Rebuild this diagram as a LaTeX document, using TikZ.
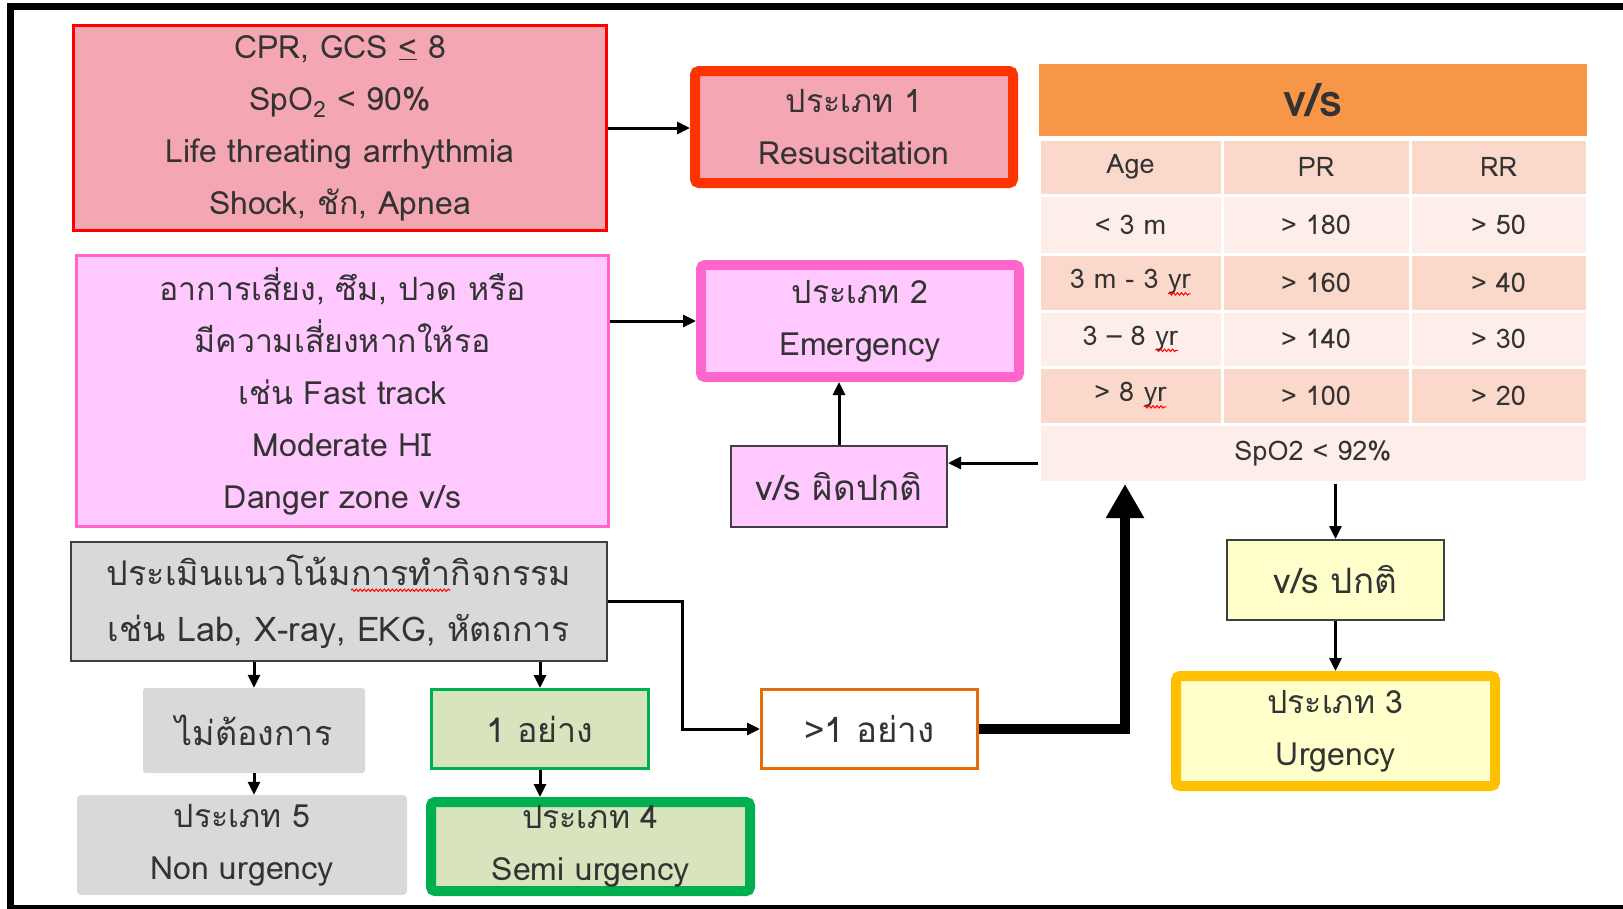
\documentclass[tikz,border=0pt]{standalone}
\usepackage{fontspec}
\usetikzlibrary{arrows.meta,decorations.pathmorphing,calc}
\newfontfamily\thai[Script=Thai]{Loma}
\definecolor{txt}{HTML}{333333}
\definecolor{redfill}{HTML}{F4A6B2}
\definecolor{redline}{HTML}{FF0000}
\definecolor{resline}{HTML}{FF3300}
\definecolor{pinkfill}{HTML}{FFC9FF}
\definecolor{pinkline}{HTML}{FF66CC}
\definecolor{grayfill}{HTML}{D9D9D9}
\definecolor{darkline}{HTML}{404040}
\definecolor{greenfill}{HTML}{D7E4BD}
\definecolor{greenline}{HTML}{00B050}
\definecolor{orangeline}{HTML}{E46C0A}
\definecolor{hdrfill}{HTML}{F79646}
\definecolor{tabdark}{HTML}{FBD9CA}
\definecolor{tablight}{HTML}{FDEEE9}
\definecolor{yelfill}{HTML}{FFFFCC}
\definecolor{yelline}{HTML}{FFC000}
\newcommand{\sqw}[1]{\tikz[baseline=(sq.base)]{\node[inner sep=0pt,outer sep=0pt,draw=none,fill=none,minimum width=0pt,minimum height=0pt,anchor=base] (sq) at (0,0) {#1};\draw[draw=red,line width=1pt,decorate,decoration={snake,amplitude=1.2pt,segment length=4pt}] ([yshift=-5pt]sq.base west) -- ([yshift=-5pt]sq.base east);}}
\begin{document}
\begin{tikzpicture}[x=1pt,y=-1pt,
  box/.style={rectangle,inner sep=0pt,align=center,text=txt,font=\thai\fontsize{32}{52}\selectfont},
  bigtext/.style={font=\thai\fontsize{34}{56}\selectfont},
  onetext/.style={font=\thai\fontsize{35}{42}\selectfont},
  cell/.style={rectangle,inner sep=0pt,draw=white,line width=3pt,text=txt,font=\thai\fontsize{27}{32}\selectfont},
  arr/.style={line width=3pt,-{Triangle[length=13pt,width=12pt]}},
  thickarr/.style={line width=10pt,-{Triangle[length=34pt,width=36pt]}}]
\useasboundingbox (0,0) rectangle (1623,908);
\fill[white] (0,0) rectangle (1623,908);
% frame
\draw[line width=7pt] (10.5,3) -- (10.5,908);
\draw[line width=7pt] (7,6.5) -- (1623,6.5);
\draw[line width=4pt] (7,906.5) -- (1623,906.5);
% left column
\node[box,fill=redfill,draw=redline,line width=3pt,minimum width=533pt,minimum height=205pt] (redbox) at (340,128)
  {CPR, GCS \underline{<} 8\\SpO\textsubscript{2} < 90\%\\Life threating arrhythmia\\Shock, ชัก, Apnea};
\node[box,fill=pinkfill,draw=pinkline,line width=3pt,minimum width=532pt,minimum height=271pt] (pinkbox) at (342.5,391)
  {อาการเสี่ยง, ซึม, ปวด หรือ\\มีความเสี่ยงหากให้รอ\\เช่น Fast track\\Moderate HI\\Danger zone v/s};
\node[box,bigtext,fill=grayfill,draw=darkline,line width=2pt,minimum width=536pt,minimum height=119pt] (graybox) at (339,601.5)
  {ประเมินแนวโน้ม\sqw{การทำ}กิจกรรม\\เช่น Lab, X-ray, EKG, หัตถการ};
\node[box,bigtext,fill=grayfill,rounded corners=3pt,minimum width=222pt,minimum height=85pt] (notneed) at (254,730.5) {ไม่ต้องการ};
\node[box,bigtext,fill=greenfill,draw=greenline,line width=3pt,minimum width=217pt,minimum height=79pt] (one) at (540,729) {1 อย่าง};
\node[box,fill=grayfill,rounded corners=4pt,minimum width=330pt,minimum height=100pt] (type5) at (242,845) {ประเภท 5\\Non urgency};
\node[box,fill=greenfill,draw=greenline,line width=10pt,rounded corners=4pt,minimum width=319pt,minimum height=89pt] (type4) at (590.5,846.5) {ประเภท 4\\Semi urgency};
% middle column
\node[box,fill=redfill,draw=resline,line width=10pt,rounded corners=4pt,minimum width=318pt,minimum height=112pt] (resus) at (854,127) {ประเภท 1\\Resuscitation};
\node[box,fill=pinkfill,draw=pinkline,line width=10pt,rounded corners=4pt,minimum width=318pt,minimum height=112pt] (emerg) at (860,321) {ประเภท 2\\Emergency};
\node[box,onetext,fill=pinkfill,draw=darkline,line width=2pt,minimum width=216pt,minimum height=81pt] (vsab) at (839,486.5) {v/s ผิดปกติ};
\node[box,onetext,fill=white,draw=orangeline,line width=3pt,minimum width=216pt,minimum height=79pt] (more) at (869.5,729) {>1 อย่าง};
% table
\node[rectangle,inner sep=0pt,fill=hdrfill,minimum width=548pt,minimum height=72pt,text=txt,font=\thai\bfseries\fontsize{46}{50}\selectfont] (hdr) at (1313,100) {v/s};
\node[cell,fill=tabdark,minimum width=183pt,minimum height=56pt] (h1) at (1130.5,167) {Age};
\node[cell,fill=tabdark,minimum width=188pt,minimum height=56pt] (h2) at (1316,167) {PR};
\node[cell,fill=tabdark,minimum width=177pt,minimum height=56pt] (h3) at (1498.5,167) {RR};
\node[cell,fill=tablight,minimum width=183pt,minimum height=59pt] (a1) at (1130.5,224.5) {< 3 m};
\node[cell,fill=tablight,minimum width=188pt,minimum height=59pt] (b1) at (1316,224.5) {> 180};
\node[cell,fill=tablight,minimum width=177pt,minimum height=59pt] (c1) at (1498.5,224.5) {> 50};
\node[cell,fill=tabdark,minimum width=183pt,minimum height=57pt] (a2) at (1130.5,282.5) {3 m - 3 \sqw{yr}};
\node[cell,fill=tabdark,minimum width=188pt,minimum height=57pt] (b2) at (1316,282.5) {> 160};
\node[cell,fill=tabdark,minimum width=177pt,minimum height=57pt] (c2) at (1498.5,282.5) {> 40};
\node[cell,fill=tablight,minimum width=183pt,minimum height=56pt] (a3) at (1130.5,339) {3 – 8 \sqw{yr}};
\node[cell,fill=tablight,minimum width=188pt,minimum height=56pt] (b3) at (1316,339) {> 140};
\node[cell,fill=tablight,minimum width=177pt,minimum height=56pt] (c3) at (1498.5,339) {> 30};
\node[cell,fill=tabdark,minimum width=183pt,minimum height=57pt] (a4) at (1130.5,395.5) {> 8 \sqw{yr}};
\node[cell,fill=tabdark,minimum width=188pt,minimum height=57pt] (b4) at (1316,395.5) {> 100};
\node[cell,fill=tabdark,minimum width=177pt,minimum height=57pt] (c4) at (1498.5,395.5) {> 20};
\node[cell,fill=tablight,minimum width=548pt,minimum height=58pt] (spo) at (1313,453) {SpO2 < 92\%};
% right column
\node[box,onetext,fill=yelfill,draw=darkline,line width=2pt,minimum width=217pt,minimum height=80pt] (vsn) at (1335.5,580) {v/s ปกติ};
\node[box,fill=yelfill,draw=yelline,line width=10pt,rounded corners=4pt,minimum width=319pt,minimum height=110pt] (urg) at (1335.5,731) {ประเภท 3\\Urgency};
% connectors
\coordinate (tb) at (1125,484);
\draw[arr] (redbox.east) -- (redbox.east -| resus.west);
\draw[arr] (pinkbox.east |- emerg.west) -- (emerg.west);
\draw[arr] (vsab.north) -- (vsab.north |- emerg.south);
\draw[arr] ([yshift=-10pt]spo.west) -- ([yshift=-10pt]spo.west -| vsab.east);
\draw[arr] (graybox.east) -- ++(74,0) |- (more.west);
\draw[thickarr] (more.east) -| (tb);
\draw[arr] (vsn.north |- spo.south) -- (vsn.north);
\draw[arr] (vsn.south) -- (urg.north);
\draw[arr] (notneed.north |- graybox.south) -- (notneed.north);
\draw[arr] (one.north |- graybox.south) -- (one.north);
\draw[arr] (notneed.south) -- (notneed.south |- type5.north);
\draw[arr] (one.south) -- (one.south |- type4.north);
\end{tikzpicture}
\end{document}
